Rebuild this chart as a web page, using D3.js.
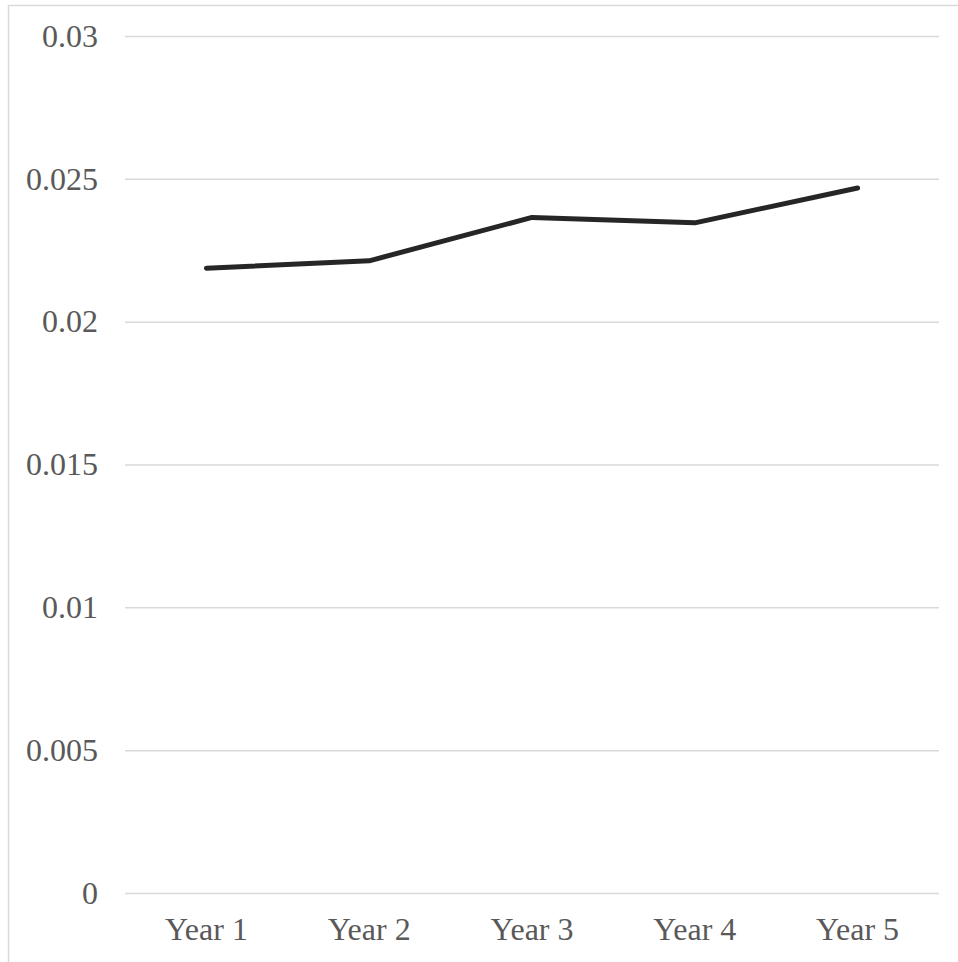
<!DOCTYPE html>
<html>

<head>
    <meta charset="UTF-8" />
    <title>Line chart</title>
    <script src="https://d3js.org/d3.v7.min.js"></script>
    <style>
        body {
            margin: 0;
            background: white;
        }

        /* axis text is Times-like, grey */
        .axis text {
            font-family: "Liberation Serif", "Times New Roman", serif;
            font-size: 32px;
            fill: #595959;
        }

        .axis path,
        .axis line {
            display: none;
        }

        .grid line {
            stroke: #d9d9d9;
            stroke-width: 1.5;
        }

        .grid path {
            display: none;
        }
    </style>
</head>

<body>
    <svg width=958 height=962></svg>

    <script>
        // data
        var years = ["Year 1", "Year 2", "Year 3", "Year 4", "Year 5"];
        var values = [0.02187, 0.02213, 0.02365, 0.02346, 0.02468];
        var yTicks = [0, 0.005, 0.01, 0.015, 0.02, 0.025, 0.03];

        var svg = d3.select("svg");
        // note: "top" is taken by window.top, so plot edges get their own names
        var plotLeft = 125, plotRight = 939, plotTop = 36, plotBottom = 893;

        var xScale = d3.scaleBand().domain(years).range([plotLeft, plotRight]);
        var yScale = d3.scaleLinear().domain([0, 0.03]).range([plotBottom, plotTop]);

        // outer border of the chart area
        svg.append("rect")
            .attr("x", 8.5)
            .attr("y", 5.5)
            .attr("width", 1000)
            .attr("height", 1000)
            .attr("fill", "none")
            .attr("stroke", "#d9d9d9")
            .attr("stroke-width", 1.5);

        // horizontal gridlines
        svg.append("g").attr("class", "grid")
            .attr("transform", "translate(" + plotLeft + ",0)")
            .call(d3.axisLeft(yScale).tickValues(yTicks).tickSize(-(plotRight - plotLeft)).tickFormat(""));

        // y axis labels
        svg.append("g").attr("class", "axis")
            .attr("transform", "translate(" + plotLeft + ",0)")
            .call(d3.axisLeft(yScale).tickValues(yTicks).tickSize(0).tickPadding(27)
                .tickFormat(d => String(+d.toFixed(3))));

        // x axis labels
        svg.append("g").attr("class", "axis")
            .attr("transform", "translate(0," + plotBottom + ")")
            .call(d3.axisBottom(xScale).tickSize(0).tickPadding(24));

        var line = d3.line()
            .x((d, i) => xScale(years[i]) + xScale.bandwidth() / 2)
            .y(d => yScale(d));

        svg.append("path")
            .datum(values)
            .attr("fill", "none")
            .attr("stroke", "#262626")
            .attr("stroke-width", 5)
            .attr("stroke-linecap", "round")
            .attr("stroke-linejoin", "round")
            .attr("d", line);
    </script>
</body>

</html>
